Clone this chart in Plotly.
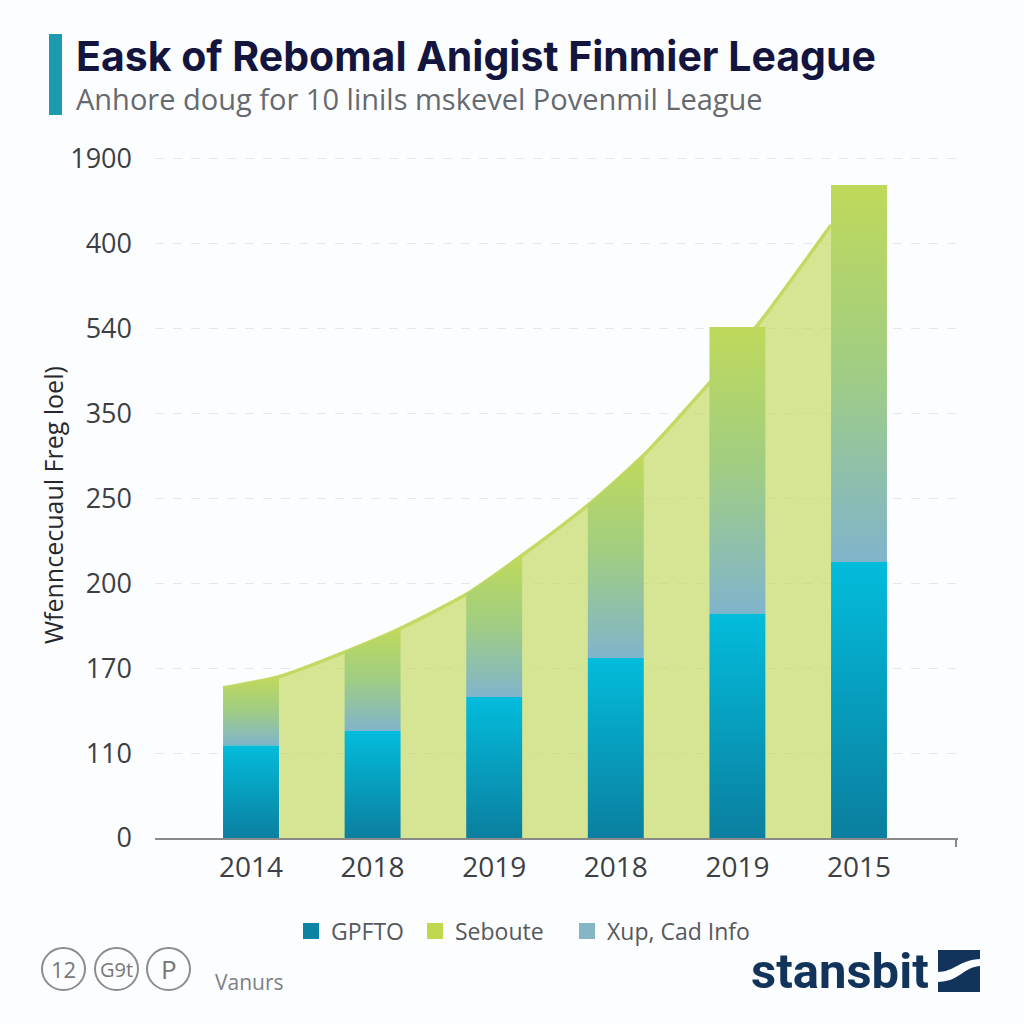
import plotly.graph_objects as go

# ---- data (y values are in tick-step units because the printed scale is uneven) ----
years = ["2014", "2018", "2019", "2018", "2019", "2015"]
y_tick_labels = ["0", "110", "170", "200", "250", "350", "540", "400", "1900"]
gpfto = [1.09, 1.26, 1.66, 2.12, 2.64, 3.25]
bar_top_left = [1.77, 2.19, 2.87, 3.92, 6.02, 7.69]
bar_top_right = [1.90, 2.47, 3.33, 4.51, 6.02, 7.69]
curve_x = [-0.23, 0.23, 0.77, 1.23, 1.77, 2.23, 2.77, 3.23, 3.77, 4.23, 4.77]
curve_y = [1.77, 1.90, 2.19, 2.47, 2.87, 3.33, 3.92, 4.51, 5.36, 6.16, 7.22]
legend_names = ["GPFTO", "Seboute", "Xup, Cad Info"]
legend_colors = ["#0b84a3", "#bfd94f", "#84b6c6"]
legend_left_px = [291, 415, 567]

BAR_HALF = 0.23
L, R, T, B = 155, 958, 150, 838
W = H = 1024

def px(x):
    return (x - L) / (R - L)

def py(y):
    return (B - y) / (B - T)

fig = go.Figure()

# light area and its top line
fig.add_trace(go.Scatter(x=curve_x, y=curve_y, mode="lines", fill="tozeroy",
                         fillcolor="rgba(193,216,90,0.65)",
                         line=dict(color="#c3da62", width=3.5, shape="spline", smoothing=0.6),
                         showlegend=False, hoverinfo="skip"))

for i in range(len(years)):
    xl, xr = i - BAR_HALF, i + BAR_HALF
    # upper gradient segment
    fig.add_trace(go.Scatter(
        x=[xl, xr, xr, xl, xl],
        y=[gpfto[i], gpfto[i], bar_top_right[i], bar_top_left[i], gpfto[i]],
        mode="lines", fill="toself", line=dict(width=0, color="rgba(0,0,0,0)"),
        fillgradient=dict(type="vertical", start=gpfto[i], stop=max(bar_top_left[i], bar_top_right[i]),
                          colorscale=[[0, "#80b4cc"], [0.5, "#a0cd84"], [1, "#bfd95a"]]),
        showlegend=False, hoverinfo="skip"))
    # lower teal segment
    fig.add_trace(go.Scatter(
        x=[xl, xr, xr, xl, xl],
        y=[0, 0, gpfto[i], gpfto[i], 0],
        mode="lines", fill="toself", line=dict(width=0, color="rgba(0,0,0,0)"),
        fillgradient=dict(type="vertical", start=0, stop=gpfto[i],
                          colorscale=[[0, "#0b7f9f"], [1, "#03bcdc"]]),
        showlegend=False, hoverinfo="skip"))

# legend entries, each placed on its own so the gaps match
legend_boxes = {}
for k, (name, color, left) in enumerate(zip(legend_names, legend_colors, legend_left_px)):
    key = "legend" if k == 0 else f"legend{k + 1}"
    fig.add_trace(go.Scatter(x=[None], y=[None], mode="markers", name=name, legend=key,
                             marker=dict(symbol="square", size=20, color=color)))
    legend_boxes[key] = dict(orientation="h", x=px(left), xanchor="left", y=py(931), yanchor="middle",
                             font=dict(size=23, color="#55585c"), itemwidth=30,
                             bgcolor="rgba(0,0,0,0)")

shapes = [
    dict(type="rect", xref="paper", yref="paper", x0=px(49), x1=px(62), y0=py(115), y1=py(34),
         fillcolor="#1a9bb0", line_width=0),
    dict(type="line", xref="paper", yref="paper", x0=px(956), x1=px(956), y0=py(838), y1=py(847),
         line=dict(color="#888888", width=2)),
]
for x0, x1 in [(42, 85), (95, 138), (147, 190)]:
    shapes.append(dict(type="circle", xref="paper", yref="paper", x0=px(x0), x1=px(x1),
                       y0=py(990), y1=py(948), line=dict(color="#8c8c8c", width=2)))
# logo mark
shapes.append(dict(type="rect", xref="paper", yref="paper", x0=px(938), x1=px(980), y0=py(992), y1=py(950),
                   fillcolor="#12335a", line_width=0))
shapes.append(dict(type="path", xref="paper", yref="paper", layer="above", fillcolor="#fcfdfe", line_width=0,
                   path=f"M {px(937)} {py(972)} C {px(955)} {py(972)} {px(958)} {py(960)} {px(981)} {py(959)} "
                        f"L {px(981)} {py(966)} C {px(962)} {py(967)} {px(960)} {py(982)} {px(937)} {py(982)} Z"))

def note(x, y, text, size, color, anchor="left", family="Open Sans", angle=0):
    return dict(x=px(x), y=py(y), xref="paper", yref="paper", text=text, showarrow=False,
                xanchor=anchor, yanchor="middle", textangle=angle,
                font=dict(size=size, color=color, family=family))

annotations = [
    note(74, 56, "<b>Eask of Rebomal Anigist Finmier League</b>", 41, "#13153f", family="Inter"),
    note(74, 98, "Anhore doug for 10 linils mskevel Povenmil League", 29, "#66696e"),
    note(53, 505, "Wfenncecuaul Freg loel)", 25, "#26282c", anchor="center", angle=-90),
    note(63.5, 969, "12", 22, "#777777", anchor="center"),
    note(116.5, 969, "G9t", 20, "#777777", anchor="center"),
    note(168.5, 969, "P", 26, "#777777", anchor="center"),
    note(213, 982, "Vanurs", 21, "#7d8084"),
    note(749, 971, "<b>stansbit</b>", 49, "#12335a", family="Roboto"),
]

fig.update_layout(
    width=W, height=H, autosize=False,
    margin=dict(l=L, r=W - R, t=T, b=H - B, pad=0),
    paper_bgcolor="#fcfdfe", plot_bgcolor="rgba(0,0,0,0)",
    font=dict(family="Open Sans", color="#3c3f44"),
    shapes=shapes, annotations=annotations,
    hovermode=False,
    xaxis=dict(range=[(L - 251) / 121.6, (R - 251) / 121.6], tickmode="array",
               tickvals=list(range(len(years))), ticktext=years, showgrid=False, zeroline=False,
               showline=True, linecolor="#8a8a8a", linewidth=2, ticks="",
               tickfont=dict(size=28, color="#3c3f44"), ticklabelstandoff=3),
    yaxis=dict(range=[0, (B - T) / 84.9], tickmode="array",
               tickvals=list(range(len(y_tick_labels))), ticktext=y_tick_labels,
               showgrid=True, gridcolor="#e6e7e9", griddash="dash", gridwidth=1.3, zeroline=False,
               showline=False, ticks="", tickfont=dict(size=27, color="#3c3f44"), ticklabelstandoff=22),
    **legend_boxes,
)

fig.write_html("out.html", config={"displayModeBar": False},
               post_script="document.body.style.margin='0';document.body.style.background='#fcfdfe';")
